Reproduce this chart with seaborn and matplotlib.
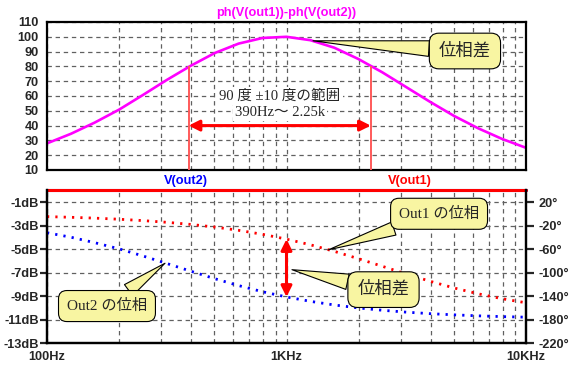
import matplotlib
matplotlib.use("Agg")
from matplotlib import pyplot as plt
import seaborn as sns
import pandas as pd

# frequency points (Hz), 10 per decade
freq = [100, 126, 158, 200, 251, 316, 398, 501, 631, 794, 1000,
        1259, 1585, 1995, 2512, 3162, 3981, 5012, 6310, 7943, 10000]

# ph(V(out1)) - ph(V(out2)) in degrees (upper pane)
phase_diff = [28.0, 34.5, 42.0, 50.8, 60.6, 70.8, 80.4, 89.0, 95.4, 99.2, 100.0,
              97.7, 92.6, 85.0, 76.0, 66.0, 56.0, 46.5, 38.2, 31.0, 25.0]

# phases of each output (lower pane, right axis)
phase_out1 = [-4.5, -5.7, -7.1, -9.0, -11.3, -14.2, -17.8, -22.3, -27.9, -34.7, -42.9,
              -52.6, -63.8, -76.2, -89.2, -102.3, -114.8, -126.2, -136.1, -144.5, -151.4]
phase_out2 = [-32.0, -39.7, -48.9, -59.5, -71.5, -84.4, -97.5, -110.3, -122.1, -132.6, -141.5,
              -149.0, -155.2, -160.2, -164.2, -167.4, -170.0, -172.0, -173.7, -175.0, -176.0]

# magnitudes (all-pass, flat)
mag_freq = [100, 10000]
mag_out1 = [0.0, 0.0]
mag_out2 = [0.0, 0.0]

# cursors: 90 +-10 deg range
cursor_freq = [390, 2250]
cursor_level = 80

db_ticks = [-1, -3, -5, -7, -9, -11, -13]
deg_ticks = [20, -20, -60, -100, -140, -180, -220]
x_major = [100, 1000, 10000]
x_major_labels = ["100Hz", "1KHz", "10KHz"]
x_minor = [200, 300, 400, 500, 600, 700, 800, 900,
           2000, 3000, 4000, 5000, 6000, 7000, 8000, 9000]

df = pd.DataFrame({"freq": freq, "diff": phase_diff, "p1": phase_out1, "p2": phase_out2})

sns.set_theme(style="white")
plt.rcParams['font.family'] = ['Liberation Sans', 'Noto Sans CJK JP']

W, H = 572, 370
fig = plt.figure(figsize=(W / 100, H / 100), dpi=100)
fig.patch.set_facecolor("white")

ax_top = fig.add_axes([47 / W, 1 - 170 / H, 479 / W, 148 / H])
ax_db = fig.add_axes([47 / W, 1 - 343 / H, 479 / W, 152.5 / H])
ax_ph = ax_db.twinx()

grid_kw = dict(color="#606060", linewidth=0.9, linestyle=(0, (3.5, 3)))
tick_font = dict(fontsize=9.2, fontweight="bold")
magenta = "#ff00ff"
callout_fc = "#f8f5a2"

for ax in (ax_top, ax_db, ax_ph):
    ax.set_xscale("log")
    ax.set_xlim(100, 10000)
    for sp in ax.spines.values():
        sp.set_linewidth(1.6)
        sp.set_color("black")

# ---------- upper pane ----------
sns.lineplot(data=df, x="freq", y="diff", ax=ax_top, color=magenta, linewidth=1.9)
ax_top.set_ylim(10, 110)
ax_top.set_yticks(range(10, 111, 10))
ax_top.set_yticklabels([str(v) for v in range(10, 111, 10)], **tick_font)
ax_top.set_xticks(x_major)
ax_top.set_xticks(x_minor, minor=True)
ax_top.tick_params(axis="x", which="both", length=0, labelbottom=False)
ax_top.tick_params(axis="y", direction="out", length=5, width=1.6, pad=1)
ax_top.grid(True, which="both", **grid_kw)
ax_top.set_xlabel("")
ax_top.set_ylabel("")
ax_top.set_title("ph(V(out1))-ph(V(out2))", color=magenta, fontsize=9.2,
                 fontweight="bold", pad=4)

ax_top.vlines(cursor_freq, 10, cursor_level, color="#ff5a5a", linewidth=1.4, zorder=3)
ax_top.annotate("", xy=(cursor_freq[0], 40), xytext=(cursor_freq[1], 40),
                arrowprops=dict(arrowstyle="<|-|>", color="red", lw=2.2,
                                mutation_scale=16, shrinkA=0, shrinkB=0))
jp_serif = ['Liberation Serif', 'Noto Sans CJK JP']
label_bg = dict(boxstyle="square,pad=0.15", fc="white", ec="none")
ax_top.text(940, 60, "90 度 ±10 度の範囲", ha="center", va="center",
            fontsize=10.5, family=jp_serif, bbox=label_bg, zorder=4)
ax_top.text(940, 48.7, "390Hz～ 2.25k", ha="center", va="center",
            fontsize=10.5, family=jp_serif, bbox=label_bg, zorder=4)


def callout(ax, text, tip, box, size):
    ax.annotate(text, xy=tip, xytext=box, ha="center", va="center",
                fontsize=size, family=jp_serif,
                bbox=dict(boxstyle="round,pad=0.55", fc=callout_fc, ec="black", lw=0.8),
                arrowprops=dict(arrowstyle="wedge,tail_width=0.9,shrink_factor=0.5",
                                fc=callout_fc, ec="black", lw=0.8,
                                shrinkA=0, shrinkB=0),
                zorder=6)


callout(ax_top, "位相差", (1290, 97.3), (5560, 90.4), 12.5)

# ---------- lower pane ----------
sns.lineplot(x=mag_freq, y=mag_out2, ax=ax_db, color="blue", linewidth=2.2, clip_on=False)
sns.lineplot(x=mag_freq, y=mag_out1, ax=ax_db, color="red", linewidth=2.2, clip_on=False)
ax_db.set_ylim(-13, 0)
ax_db.set_yticks(db_ticks)
ax_db.set_yticklabels([f"{v}dB" for v in db_ticks], **tick_font)
ax_db.set_xticks(x_major)
ax_db.set_xticklabels(x_major_labels, **tick_font)
ax_db.set_xticks(x_minor, minor=True)
ax_db.tick_params(axis="x", which="major", direction="inout", length=9, width=1.6, pad=1)
ax_db.tick_params(axis="x", which="minor", direction="in", length=4, width=1.6)
ax_db.tick_params(axis="y", direction="out", length=5, width=1.6, pad=1)
ax_db.grid(True, which="both", **grid_kw)
ax_db.spines["top"].set_visible(False)
ax_db.set_xlabel("")
ax_db.set_ylabel("")

dots = (0, (0.8, 2.2))
sns.lineplot(data=df, x="freq", y="p1", ax=ax_ph, color="red", linewidth=2.0, linestyle=dots)
sns.lineplot(data=df, x="freq", y="p2", ax=ax_ph, color="blue", linewidth=2.0, linestyle=dots)
ax_ph.set_ylim(-220, 40)
ax_ph.set_yticks(deg_ticks)
ax_ph.set_yticklabels([f"{v}°" for v in deg_ticks], **tick_font)
ax_ph.tick_params(axis="y", direction="out", length=6, width=1.6, pad=3)
ax_ph.tick_params(axis="x", which="both", length=0)
ax_ph.spines["top"].set_visible(False)
ax_ph.set_xlabel("")
ax_ph.set_ylabel("")
ax_ph.grid(False)

ax_ph.annotate("", xy=(1000, phase_out1[10]), xytext=(1000, phase_out2[10]),
               arrowprops=dict(arrowstyle="<|-|>", color="red", lw=2.2,
                               mutation_scale=16, shrinkA=0, shrinkB=0))

callout(ax_ph, "Out1 の位相", (1500, -61), (4335, 0.3), 11)
callout(ax_ph, "位相差", (1054, -95), (2541, -129), 12.5)
callout(ax_ph, "Out2 の位相", (311, -84), (178, -157), 11)

fig.text(186 / W, 1 - 181 / H, "V(out2)", color="blue", ha="center", va="center", **tick_font)
fig.text(410 / W, 1 - 181 / H, "V(out1)", color="red", ha="center", va="center", **tick_font)

fig.savefig("out.png", dpi=100)
